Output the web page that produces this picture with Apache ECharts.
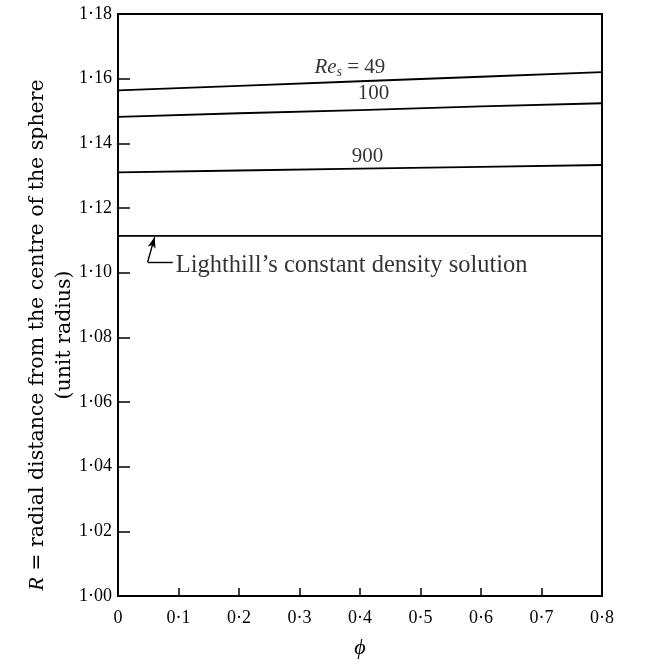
<!DOCTYPE html>
<html>
<head>
<meta charset="utf-8">
<script src="https://cdn.jsdelivr.net/npm/echarts@6/dist/echarts.min.js"></script>
<style>html,body{margin:0;padding:0;background:#fff}#c{width:659px;height:664px}</style>
</head>
<body>
<div id="c"></div>
<script>
const phi = [0, 0.2, 0.4, 0.6, 0.8];
const re49 = [1.1564, 1.1578, 1.1592, 1.1606, 1.1620];
const re100 = [1.1482, 1.1493, 1.1503, 1.1514, 1.1524];
const re900 = [1.1310, 1.1316, 1.1322, 1.1327, 1.1333];
const lighthill = [1.1114, 1.1114, 1.1114, 1.1114, 1.1114];
const curveLabels = ['{i|Re}{sub|s}{n| = 49}', '100', '900'];
const lighthillText = 'Lighthill\u2019s constant density solution';

const serif = '"Liberation Serif", "Times New Roman", serif';
const pair = (ys) => phi.map((x, i) => [x, ys[i]]);
const lineStyle = { color: '#000', width: 1.8 };

const chart = echarts.init(document.getElementById('c'), null, { renderer: 'canvas' });
chart.setOption({
  animation: false,
  backgroundColor: '#fff',
  grid: { left: 118, right: 57, top: 14, bottom: 67, show: true, borderColor: '#000', borderWidth: 2 },
  xAxis: {
    type: 'value', min: 0, max: 0.8, interval: 0.1,
    name: '\u03d5', nameLocation: 'middle', nameGap: 41,
    nameTextStyle: { fontFamily: serif, fontStyle: 'italic', fontSize: 22, color: '#000' },
    axisLine: { show: true, lineStyle: { color: '#000', width: 2 } },
    axisTick: { show: true, inside: true, length: 8, lineStyle: { color: '#000', width: 1.5 } },
    splitLine: { show: false },
    axisLabel: {
      color: '#000', fontFamily: serif, fontSize: 18, margin: 13,
      formatter: v => v === 0 ? '0' : v.toFixed(1).replace('.', '\u00b7')
    }
  },
  yAxis: {
    type: 'value', min: 1.00, max: 1.18, interval: 0.02,
    name: '{i|R} = radial distance from the centre of the sphere\n(unit radius)',
    nameLocation: 'middle', nameRotate: 90, nameGap: 40, nameMoveOverlap: false,
    nameTextStyle: {
      fontFamily: '"DejaVu Serif", serif', fontSize: 20.5, color: '#000', lineHeight: 27,
      padding: [0, 60, 0, 0],
      rich: { i: { fontFamily: serif, fontStyle: 'italic', fontSize: 22, color: '#000' } }
    },
    axisLine: { show: true, lineStyle: { color: '#000', width: 2 } },
    axisTick: { show: true, inside: true, length: 12, lineStyle: { color: '#000', width: 1.5 } },
    splitLine: { show: false },
    axisLabel: {
      color: '#000', fontFamily: serif, fontSize: 18, margin: 6,
      formatter: v => v.toFixed(2).replace('.', '\u00b7')
    }
  },
  series: [
    { type: 'line', data: pair(re49), showSymbol: false, lineStyle, silent: true },
    { type: 'line', data: pair(re100), showSymbol: false, lineStyle, silent: true },
    { type: 'line', data: pair(re900), showSymbol: false, lineStyle, silent: true },
    {
      type: 'line', data: pair(lighthill), showSymbol: false, lineStyle, silent: true,
      markLine: {
        silent: true, symbol: ['none', 'none'], animation: false,
        label: { show: false },
        lineStyle: { color: '#000', width: 1.4, type: 'solid' },
        data: [
          [{ coord: [0.049, 1.1033] }, { coord: [0.0905, 1.1033] }],
          [{ coord: [0.049, 1.1033], symbol: 'none' }, { coord: [0.0606, 1.1110], symbol: 'arrow', symbolSize: [6, 11] }]
        ]
      }
    },
    {
      type: 'scatter', symbolSize: 0, silent: true,
      data: [[0.3833, 1.1634], [0.4222, 1.1553], [0.4123, 1.1358]],
      label: {
        show: true, position: 'inside', color: '#000', fontFamily: serif, fontSize: 21,
        formatter: p => curveLabels[p.dataIndex],
        rich: {
          i: { fontFamily: serif, fontStyle: 'italic', fontSize: 21, color: '#000' },
          sub: { fontFamily: serif, fontStyle: 'italic', fontSize: 14, color: '#000', padding: [10, 0, 0, 0] },
          n: { fontFamily: serif, fontSize: 21, color: '#000' }
        }
      }
    },
    {
      type: 'scatter', symbolSize: 0, silent: true,
      data: [[0.0905, 1.1033]],
      label: {
        show: true, position: 'right', distance: 3, offset: [0, 4], color: '#000', fontFamily: serif, fontSize: 24.5,
        formatter: () => lighthillText
      }
    }
  ]
});
</script>
</body>
</html>
